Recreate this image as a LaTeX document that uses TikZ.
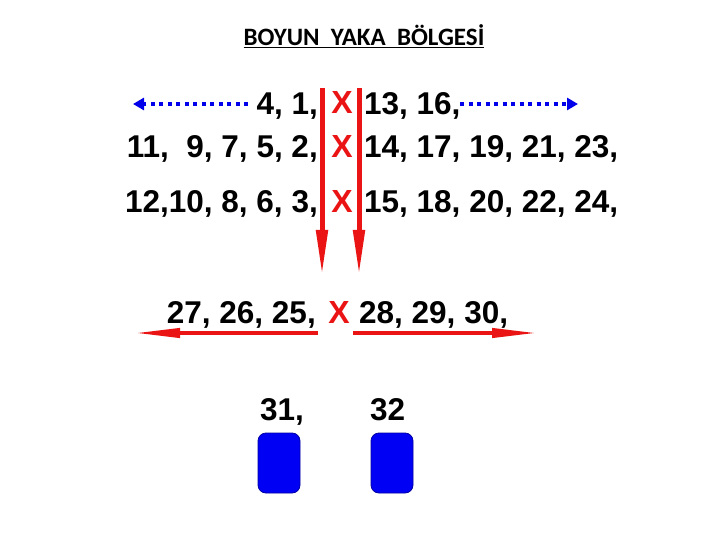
\documentclass[tikz,border=0pt]{standalone}
\usepackage{fontspec}
\setmainfont{Liberation Sans}
\newfontfamily\titlefont{Carlito}
\usetikzlibrary{arrows.meta}
\definecolor{xred}{RGB}{235,20,20}
\definecolor{ablue}{RGB}{0,0,235}
\definecolor{bblue}{RGB}{0,0,245}
\begin{document}
\begin{tikzpicture}[x=1pt,y=-1pt,
  num/.style={inner sep=0pt,font=\fontsize{31.5}{31.5}\selectfont\bfseries},
  xmark/.style={inner sep=0pt,text=xred,font=\fontsize{32}{32}\selectfont\bfseries,anchor=base},
  redv/.style={draw=xred,line width=5pt,-{Triangle[length=46pt,width=11pt]}},
  redh/.style={draw=xred,line width=4pt,-{Triangle[length=46pt,width=9pt]}},
  bluedot/.style={draw=ablue,line width=4pt,dash pattern=on 4pt off 4.5pt,-{Triangle[length=11pt,width=12pt]}},
  seat/.style={fill=bblue,draw=ablue!70!black,line width=0.8pt,rounded corners=8pt}
]
\useasboundingbox[fill=white] (0,0) rectangle (720,540);
\node[inner sep=0pt,anchor=base,font=\titlefont\fontsize{25}{25}\selectfont\bfseries] (title) at (364,46) {\underline{BOYUN\ \ YAKA\ \ BÖLGESİ}};
% row 1
\node[num,anchor=base east] (r1l) at (318,115) {4, 1,};
\node[xmark] (x1) at (342,114) {X};
\node[num,anchor=base west] (r1r) at (364,115) {13, 16,};
% row 2
\node[num,anchor=base east] (r2l) at (318,158) {11,\ \ 9, 7, 5, 2,};
\node[xmark] (x2) at (342,158) {X};
\node[num,anchor=base west] (r2r) at (364,158) {14, 17, 19, 21, 23,};
% row 3
\node[num,anchor=base east] (r3l) at (318,212) {12,10, 8, 6, 3,};
\node[xmark] (x3) at (342,212) {X};
\node[num,anchor=base west] (r3r) at (364,212) {15, 18, 20, 22, 24,};
% row 4
\node[num,anchor=base east] (r4l) at (316,323) {27, 26, 25,};
\node[xmark] (x4) at (339,323) {X};
\node[num,anchor=base west] (r4r) at (359,323) {28, 29, 30,};
% row 5
\node[num,anchor=base west] (r5l) at (260,420) {31,};
\node[num,anchor=base west] (r5r) at (370,420) {32};
\node[seat,minimum width=42pt,minimum height=60pt] (s1) at (279,463) {};
\node[seat,minimum width=42pt,minimum height=60pt] (s2) at (392,463) {};
% connectors
\coordinate (vl1) at (322,88); \coordinate (vl2) at (322,276);
\coordinate (vr1) at (359,88); \coordinate (vr2) at (359,276);
\draw[redv] (vl1) -- (vl2);
\draw[redv] (vr1) -- (vr2);
\coordinate (bl1) at (248,104); \coordinate (bl2) at (133,104);
\coordinate (br1) at (460,104); \coordinate (br2) at (578,104);
\draw[bluedot] (bl1) -- (bl2);
\draw[bluedot] (br1) -- (br2);
\coordinate (hl1) at (318,333); \coordinate (hl2) at (134,333);
\coordinate (hr1) at (353,333); \coordinate (hr2) at (538,333);
\draw[redh] (hl1) -- (hl2);
\draw[redh] (hr1) -- (hr2);
\end{tikzpicture}
\end{document}
